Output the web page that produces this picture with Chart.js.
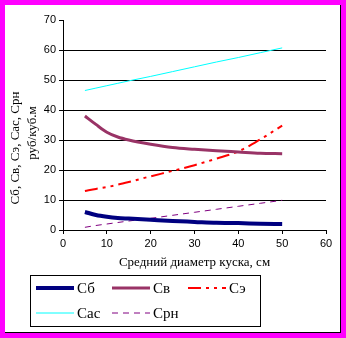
<!DOCTYPE html>
<html>
<head>
<meta charset="utf-8">
<script src="https://cdn.jsdelivr.net/npm/chart.js@4"></script>
<style>
  html, body { margin: 0; padding: 0; background: #ff00ff; }
  #wrap { width: 346px; height: 338px; }
</style>
</head>
<body>
<div id="wrap"><canvas id="costChart" width="346" height="338"></canvas></div>
<script>
// diameter of piece, cm
const diameters = [5, 7.5, 10, 12.5, 15, 20, 25, 30, 35, 40, 45, 50];

// costs, rub per cubic metre
const costB   = [6.0, 5.0, 4.4, 4.0, 3.8, 3.4, 3.0, 2.7, 2.4, 2.3, 2.1, 2.0];
const costV   = [38.0, 35.2, 32.6, 31.0, 30.0, 28.6, 27.5, 26.9, 26.4, 26.0, 25.6, 25.4];
const costE   = [13.0, 13.7, 14.3, 15.1, 16.0, 17.9, 19.7, 21.6, 23.8, 26.2, 30.2, 34.8];
const costAs  = [46.5, 47.3, 48.1, 48.9, 49.7, 51.2, 52.8, 54.4, 56.0, 57.5, 59.1, 60.7];
const costRn  = [0.9, 1.5, 2.0, 2.5, 3.0, 3.9, 4.9, 5.9, 6.9, 7.9, 8.9, 9.9];

const seriesNames = ["Сб", "Св", "Сэ", "Сас", "Срн"];
const xTicks = [0, 10, 20, 30, 40, 50, 60];
const yTicks = [0, 10, 20, 30, 40, 50, 60, 70];

const xTitle = "Средний диаметр куска, см";
const yTitle = ["Сб, Св, Сэ, Сас, Срн", "руб/куб.м"];

const toPoints = (vals) => vals.map((v, i) => ({ x: diameters[i], y: v }));

const styles = [
  { color: "#000080", width: 4, dash: [] },
  { color: "#993366", width: 3, dash: [] },
  { color: "#ff0000", width: 2, dash: [13, 5, 3, 5, 3, 5] },
  { color: "#00ffff", width: 1, dash: [] },
  { color: "#800080", width: 1, dash: [6, 5] },
];
const seriesData = [costB, costV, costE, costAs, costRn];

const datasets = seriesData.map((vals, i) => ({
  label: seriesNames[i],
  data: toPoints(vals),
  borderColor: styles[i].color,
  backgroundColor: styles[i].color,
  borderWidth: styles[i].width,
  borderDash: styles[i].dash,
  pointRadius: 0,
  cubicInterpolationMode: "monotone",
  fill: false,
}));

// white panel with dark edge on the right and bottom
const framePlugin = {
  id: "frame",
  beforeDraw(chart) {
    const ctx = chart.ctx;
    ctx.save();
    ctx.fillStyle = "#ff00ff";
    ctx.fillRect(0, 0, chart.width, chart.height);
    ctx.fillStyle = "#ffffff";
    ctx.fillRect(5, 5, 335, 327);
    ctx.fillStyle = "#000000";
    ctx.fillRect(340, 5, 1, 328);
    ctx.fillRect(5, 332, 336, 1);
    ctx.restore();
  },
};

// rotated two-line y title and the boxed legend
const extrasPlugin = {
  id: "extras",
  afterDraw(chart) {
    const ctx = chart.ctx;
    ctx.save();
    ctx.fillStyle = "#000";
    ctx.font = "13px 'Liberation Serif', 'Times New Roman', serif";
    ctx.textAlign = "center";
    ctx.textBaseline = "middle";
    ctx.save();
    ctx.translate(16, 148);
    ctx.rotate(-Math.PI / 2);
    ctx.fillText(yTitle[0], 0, 0);
    ctx.restore();
    ctx.save();
    ctx.translate(33, 133);
    ctx.rotate(-Math.PI / 2);
    ctx.fillText(yTitle[1], 0, 0);
    ctx.restore();

    // legend box
    ctx.strokeStyle = "#000";
    ctx.lineWidth = 1;
    ctx.strokeRect(30.5, 275.5, 230, 51);

    const slots = [
      { x: 36, y: 288 }, { x: 112, y: 288 }, { x: 188, y: 288 },
      { x: 36, y: 313 }, { x: 112, y: 313 },
    ];
    ctx.font = "15px 'Liberation Serif', 'Times New Roman', serif";
    ctx.textAlign = "left";
    chart.data.datasets.forEach((ds, i) => {
      const s = slots[i];
      ctx.beginPath();
      ctx.strokeStyle = ds.borderColor;
      ctx.lineWidth = ds.borderWidth;
      ctx.setLineDash(ds.borderDash);
      ctx.moveTo(s.x, s.y);
      ctx.lineTo(s.x + 38, s.y);
      ctx.stroke();
      ctx.setLineDash([]);
      ctx.fillStyle = "#000";
      ctx.fillText(ds.label, s.x + 41, s.y + 1);
    });
    ctx.restore();
  },
};

const tickFont = { family: "'Liberation Sans', Arial, sans-serif", size: 11 };

new Chart("costChart", {
  type: "line",
  data: { datasets },
  plugins: [framePlugin, extrasPlugin],
  options: {
    responsive: false,
    animation: false,
    layout: { padding: { left: 5, top: 20, right: 20, bottom: 68 } },
    plugins: { legend: { display: false }, tooltip: { enabled: false } },
    scales: {
      x: {
        type: "linear",
        min: 0,
        max: 60,
        afterFit: (scale) => { scale.height = 40; },
        afterBuildTicks: (scale) => { scale.ticks = xTicks.map((v) => ({ value: v })); },
        ticks: { color: "#000", font: tickFont, padding: 3, maxRotation: 0 },
        grid: { drawOnChartArea: false, drawTicks: true, tickLength: 4, tickColor: "#000" },
        border: { color: "#000", width: 1 },
        title: {
          display: true,
          text: xTitle,
          color: "#000",
          font: { family: "'Liberation Serif', 'Times New Roman', serif", size: 13 },
          padding: { top: 2, bottom: 0 },
        },
      },
      y: {
        min: 0,
        max: 70,
        afterFit: (scale) => { scale.width = 58; },
        afterBuildTicks: (scale) => { scale.ticks = yTicks.map((v) => ({ value: v })); },
        ticks: { color: "#000", font: tickFont, padding: 3 },
        grid: {
          color: (c) => (c.tick && (c.tick.value === 70 || c.tick.value === 0) ? "rgba(0,0,0,0)" : "#000"),
          tickColor: "#000",
          tickLength: 4,
          lineWidth: 1,
        },
        border: { color: "#000", width: 1 },
      },
    },
  },
});
</script>
</body>
</html>
